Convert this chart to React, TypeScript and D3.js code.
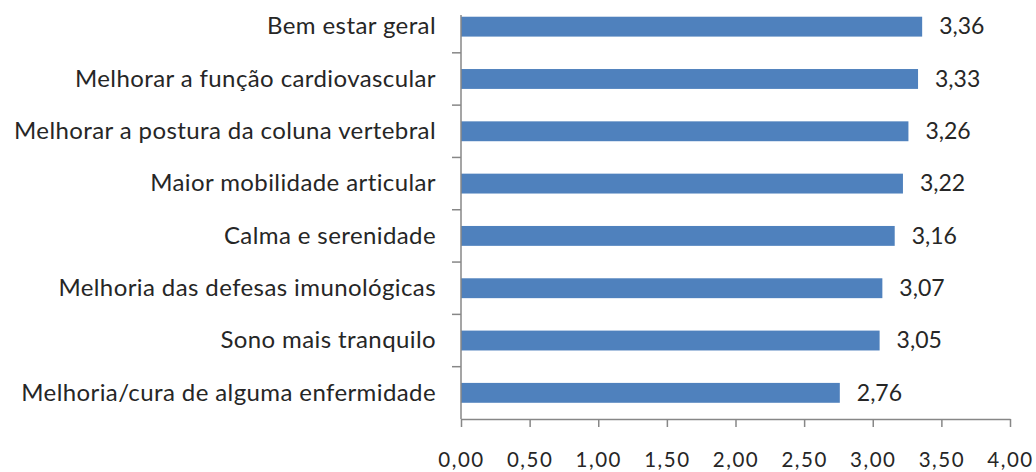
import React, { useEffect, useRef } from "react";
import * as d3 from "d3";

const categories = [
  "Bem estar geral",
  "Melhorar a função cardiovascular",
  "Melhorar a postura da coluna vertebral",
  "Maior mobilidade articular",
  "Calma e serenidade",
  "Melhoria das defesas imunológicas",
  "Sono mais tranquilo",
  "Melhoria/cura de alguma enfermidade",
];
const values = [3.36, 3.33, 3.26, 3.22, 3.16, 3.07, 3.05, 2.76];
const xTicks = [0, 0.5, 1, 1.5, 2, 2.5, 3, 3.5, 4];

const fmt = (v: number) => v.toFixed(2).replace(".", ",");

const App: React.FC = () => {
  const ref = useRef<SVGSVGElement | null>(null);

  useEffect(() => {
    if (!ref.current) return;
    const svg = d3.select(ref.current);
    svg.selectAll("*").remove();

    const width = 1036;
    const height = 472;
    const left = 461;
    const right = 1010;
    const top = 0.5;
    const bottom = 419;
    const font = "Lato, 'Liberation Sans', sans-serif";
    const textColor = "#262626";
    const axisColor = "#878787";

    svg.attr("width", width).attr("height", height);

    const x = d3.scaleLinear().domain([0, 4]).range([left, right]);
    const y = d3.scaleBand<string>().domain(categories).range([top, bottom]).paddingInner(0.62).paddingOuter(0.31);

    // bars
    svg
      .append("g")
      .selectAll("rect")
      .data(values)
      .join("rect")
      .attr("x", x(0))
      .attr("y", (_, i) => y(categories[i])!)
      .attr("width", (d) => x(d) - x(0))
      .attr("height", y.bandwidth())
      .attr("fill", "#4F81BD");

    // value labels
    svg
      .append("g")
      .selectAll("text")
      .data(values)
      .join("text")
      .attr("x", (d) => x(d) + 17)
      .attr("y", (_, i) => y(categories[i])! + y.bandwidth() / 2)
      .attr("dy", "0.34em")
      .attr("font-family", font)
      .attr("font-size", 23)
      .attr("fill", textColor)
      .text((d) => fmt(d));

    // category axis
    const step = (bottom - top) / categories.length;
    const yAxis = svg.append("g");
    yAxis
      .append("line")
      .attr("x1", left)
      .attr("x2", left)
      .attr("y1", 15)
      .attr("y2", bottom)
      .attr("stroke", axisColor)
      .attr("stroke-width", 1.5);
    yAxis
      .selectAll("line.tick")
      .data(d3.range(1, categories.length))
      .join("line")
      .attr("class", "tick")
      .attr("x1", left - 9)
      .attr("x2", left)
      .attr("y1", (k) => top + k * step)
      .attr("y2", (k) => top + k * step)
      .attr("stroke", axisColor)
      .attr("stroke-width", 1.5);
    yAxis
      .selectAll("text")
      .data(categories)
      .join("text")
      .attr("x", 436)
      .attr("y", (d) => y(d)! + y.bandwidth() / 2)
      .attr("dy", "0.32em")
      .attr("text-anchor", "end")
      .attr("font-family", font)
      .attr("font-size", 24)
      .attr("letter-spacing", 0.4)
      .attr("fill", textColor)
      .text((d) => d);

    // value axis
    const xAxis = svg
      .append("g")
      .attr("transform", `translate(0,${bottom})`)
      .call(d3.axisBottom(x).tickValues(xTicks).tickSize(8).tickSizeOuter(0).tickPadding(25).tickFormat((d) => fmt(d as number)));
    xAxis.select(".domain").attr("stroke", axisColor).attr("stroke-width", 1.5);
    xAxis.selectAll(".tick line").attr("stroke", axisColor).attr("stroke-width", 1.5);
    xAxis
      .selectAll(".tick text")
      .attr("font-family", font)
      .attr("font-size", 20.5)
      .attr("letter-spacing", 1.5)
      .attr("fill", textColor);
  }, []);

  return <svg ref={ref} style={{ position: "absolute", left: 0, top: 0 }}></svg>;
};

export default App;
